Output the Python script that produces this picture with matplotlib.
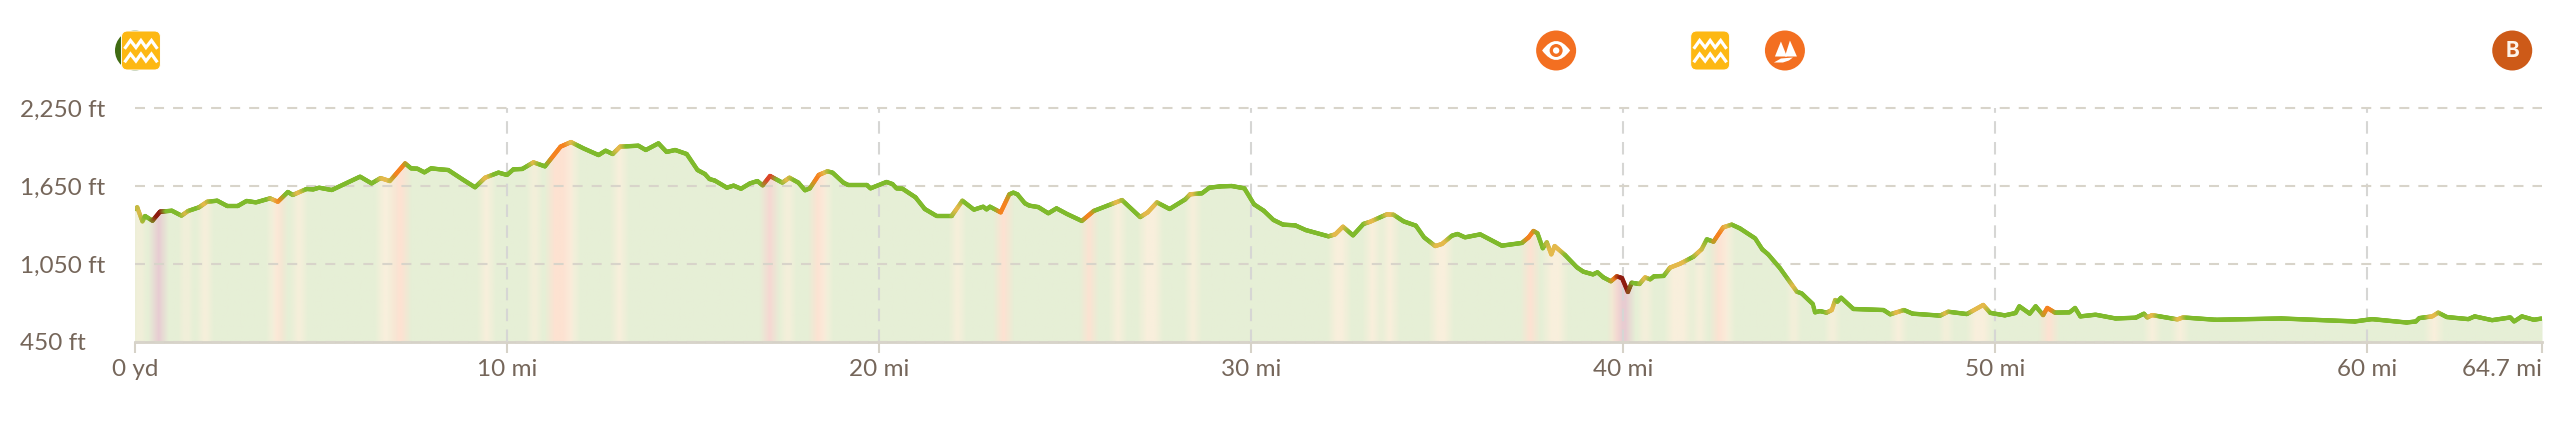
import numpy as np
import matplotlib
matplotlib.use('Agg')
import matplotlib.pyplot as plt
from matplotlib.collections import LineCollection
from matplotlib.patches import Circle, FancyBboxPatch, PathPatch, Polygon
from matplotlib.path import Path

# profile: distance in miles, elevation in feet
miles = [
    0, .06, .2, .27, .47, .67, .99, 1.25, 1.43, 1.72, 1.94, 2.21, 2.48, 2.76, 3.0, 3.25, 3.63, 3.84, 4.11, 4.24,
    4.61, 4.79, 4.95, 5.29, 6.05, 6.36, 6.6, 6.85, 7.26, 7.42, 7.59, 7.78, 7.96, 8.2, 8.42, 8.83, 9.14, 9.41, 9.77, 10.0,
    10.17, 10.41, 10.71, 11.02, 11.44, 11.72, 12.05, 12.46, 12.65, 12.84, 13.04, 13.53, 13.73, 14.07, 14.29, 14.52, 14.83, 15.12, 15.32, 15.44,
    15.59, 15.91, 16.09, 16.29, 16.53, 16.73, 16.87, 17.07, 17.4, 17.59, 17.83, 18.01, 18.14, 18.38, 18.61, 18.75, 19.04, 19.17, 19.67, 19.77,
    20.2, 20.36, 20.47, 20.63, 20.98, 21.23, 21.55, 21.95, 22.24, 22.55, 22.8, 22.89, 22.98, 23.27, 23.5, 23.61, 23.72, 23.92, 24.04, 24.28,
    24.55, 24.77, 25.05, 25.45, 25.77, 26.53, 27.02, 27.22, 27.47, 27.81, 28.23, 28.36, 28.68, 28.88, 29.17, 29.48, 29.82, 30.08, 30.34, 30.6,
    30.86, 31.19, 31.47, 32.08, 32.26, 32.47, 32.74, 33.02, 33.2, 33.65, 33.83, 34.1, 34.43, 34.65, 34.95, 35.13, 35.4, 35.55, 35.75, 36.16,
    36.74, 37.28, 37.46, 37.59, 37.7, 37.84, 37.95, 38.07, 38.16, 38.44, 38.76, 38.93, 39.19, 39.31, 39.47, 39.67, 39.83, 39.97, 40.13, 40.23,
    40.44, 40.59, 40.73, 40.83, 41.09, 41.26, 41.53, 41.89, 42.11, 42.25, 42.43, 42.69, 42.92, 43.14, 43.55, 43.74, 43.9, 44.22, 44.67, 44.8,
    45.1, 45.16, 45.29, 45.47, 45.61, 45.7, 45.76, 45.86, 46.19, 47.0, 47.18, 47.55, 47.78, 48.52, 48.74, 49.24, 49.68, 49.87, 50.26, 50.55,
    50.65, 50.93, 51.09, 51.29, 51.4, 51.61, 52.0, 52.15, 52.29, 52.7, 53.24, 53.78, 54.0, 54.09, 54.22, 54.9, 55.05, 55.93, 57.69, 59.67,
    60.13, 61.06, 61.31, 61.4, 61.75, 61.91, 62.14, 62.72, 62.89, 63.36, 63.85, 63.95, 64.16, 64.48, 64.7,
]
elevation = [
    1473, 1486, 1378, 1419, 1383, 1452, 1460, 1422, 1458, 1486, 1529, 1537, 1496, 1496, 1535, 1524, 1555, 1529, 1604, 1581,
    1627, 1624, 1637, 1619, 1722, 1670, 1711, 1688, 1824, 1786, 1783, 1755, 1786, 1778, 1773, 1696, 1640, 1714, 1753, 1735,
    1778, 1781, 1832, 1801, 1953, 1988, 1940, 1888, 1922, 1896, 1953, 1960, 1927, 1978, 1912, 1927, 1896, 1773, 1742, 1704,
    1691, 1637, 1653, 1629, 1670, 1688, 1655, 1727, 1676, 1714, 1676, 1617, 1632, 1735, 1763, 1753, 1676, 1658, 1658, 1632,
    1681, 1665, 1632, 1629, 1563, 1473, 1419, 1419, 1537, 1468, 1491, 1470, 1491, 1447, 1586, 1599, 1586, 1517, 1499, 1488,
    1440, 1478, 1435, 1381, 1458, 1542, 1411, 1447, 1524, 1473, 1547, 1586, 1594, 1637, 1647, 1650, 1632, 1509, 1460, 1389,
    1353, 1347, 1311, 1263, 1278, 1337, 1270, 1358, 1375, 1432, 1429, 1378, 1345, 1255, 1188, 1204, 1268, 1281, 1255, 1278,
    1191, 1212, 1255, 1304, 1286, 1171, 1217, 1124, 1188, 1119, 1024, 991, 970, 986, 947, 917, 955, 942, 835, 906,
    896, 947, 932, 955, 958, 1022, 1052, 1106, 1163, 1240, 1222, 1332, 1353, 1324, 1247, 1163, 1124, 1017, 837, 824,
    742, 678, 688, 676, 696, 773, 760, 791, 704, 696, 663, 696, 668, 653, 683, 665, 735, 674, 655, 673,
    725, 668, 725, 657, 712, 676, 678, 712, 647, 660, 631, 637, 668, 639, 657, 624, 639, 621, 631, 608,
    626, 600, 608, 634, 647, 676, 642, 626, 647, 618, 639, 608, 647, 621, 631,
]

# steep stretches: start mile, end mile, level (1 moderate, 2 steep, 3 very steep, 4 extreme)
steep_start = [
    .04, .5, 1.3, 1.77, 3.63, 3.81, 4.3, 6.57, 6.95, 9.32, 10.64, 11.14, 11.65, 12.9, 16.91, 17.43, 18.21, 18.46, 21.98, 23.2,
    25.52, 26.29, 27.07, 28.32, 32.17, 33.11, 33.6, 34.9, 37.37, 37.95, 39.7, 39.83, 40.5, 41.22, 41.93, 42.43, 42.7, 44.49, 45.52, 47.26,
    48.59, 49.33, 51.29, 54.1, 54.85, 61.65,
]
steep_end = [
    .2, .76, 1.43, 2.0, 3.81, 3.97, 4.52, 6.9, 7.3, 9.56, 10.82, 11.65, 11.83, 13.13, 17.2, 17.65, 18.46, 18.64, 22.22, 23.5,
    25.77, 26.55, 27.51, 28.54, 32.56, 33.4, 33.87, 35.32, 37.64, 38.38, 39.83, 40.19, 40.68, 41.75, 42.16, 42.7, 42.89, 44.67, 45.72, 47.52,
    48.77, 49.82, 51.58, 54.35, 55.1, 61.94,
]
steep_level = [
    1, 4, 1, 1, 1, 2, 1, 1, 2, 1, 1, 2, 1, 1, 3, 1, 2, 1, 1, 2,
    2, 1, 1, 1, 1, 1, 1, 1, 2, 1, 2, 4, 1, 1, 1, 2, 1, 1, 1, 1,
    1, 1, 2, 1, 1, 1,
]

x_ticks = [0, 10, 20, 30, 40, 50, 60, 64.7]
x_labels = ['0 yd', '10 mi', '20 mi', '30 mi', '40 mi', '50 mi', '60 mi', '64.7 mi']
y_ticks = [450, 1050, 1650, 2250]
y_labels = ['450 ft', '1,050 ft', '1,650 ft', '2,250 ft']

# waypoints along the top
start_mile = 0
waterfall_miles = [.16, 42.34]
viewpoint_mile = 38.2
lake_mile = 44.35
finish_mile = 63.9

line_colors = ['#7fba2c', '#e4b94b', '#f5821f', '#db4528', '#8e1b10']
band_colors = ['#e6efd6', '#f9efdc', '#fde2d2', '#f6d8d2', '#e8ccd2']
text_color = '#75665a'
axis_color = '#d6d2c8'


def strip_colors(palette, grid, width=11):
    # colours along the distance axis, softened a little at the edges of each stretch
    rgb = np.tile(matplotlib.colors.to_rgb(palette[0]), (len(grid), 1))
    for a, b, lev in zip(steep_start, steep_end, steep_level):
        rgb[(grid >= a) & (grid < b)] = matplotlib.colors.to_rgb(palette[lev])
    kernel = np.ones(width) / width
    pad = np.pad(rgb, ((width // 2, width // 2), (0, 0)), mode='edge')
    return np.column_stack([np.convolve(pad[:, i], kernel, mode='valid') for i in range(3)])


plt.rcParams['font.family'] = 'Lato'
plt.rcParams['lines.scale_dashes'] = False

fig = plt.figure(figsize=(25.6, 4.29), dpi=100)
ax = fig.add_axes([135 / 2560, 1 - 342 / 429, (2542 - 135) / 2560, 234 / 429])
ax.set_xlim(0, 64.7)
ax.set_ylim(450, 2250)

grid = np.arange(0, 64.7, .025)

# area under the profile, tinted by steepness
area = ax.fill_between(miles, elevation, 450, color=band_colors[0], lw=0, zorder=1)
im = ax.imshow(strip_colors(band_colors, grid)[np.newaxis, :, :], extent=[0, 64.7, 450, 2250],
               aspect='auto', interpolation='bilinear', zorder=1.5)
im.set_clip_path(area.get_paths()[0], transform=ax.transData)

ax.set_xticks(x_ticks, x_labels)
ax.set_yticks(y_ticks, y_labels)
ax.set_axisbelow(False)
ax.grid(True, axis='y', color='#d8d4ca', lw=1.5, ls=(0, (7.2, 6.5)), zorder=2, clip_on=False)
ax.grid(True, axis='x', color='#d6d6d4', lw=1.5, ls=(0, (9, 6)), zorder=2)
gl = ax.get_xgridlines()
gl[0].set_visible(False)
gl[-1].set_visible(False)
for g in ax.get_ygridlines() + gl:
    g.set_zorder(2)
    g.set_clip_on(False)

# profile line, split finely only so the colour can change along it
fine = np.unique(np.concatenate([grid, miles]))
fine_y = np.interp(fine, miles, elevation)
pts = np.column_stack([fine, fine_y]).reshape(-1, 1, 2)
segs = np.concatenate([pts[:-1], pts[1:]], axis=1)
seg_rgb = strip_colors(line_colors, grid, 7)[np.clip(np.searchsorted(grid, fine[:-1]), 0, len(grid) - 1)]
ax.add_collection(LineCollection(segs, colors=seg_rgb, linewidths=3.1, capstyle='round', zorder=3))

for side in ['top', 'left', 'right']:
    ax.spines[side].set_visible(False)
ax.spines['bottom'].set_color(axis_color)
ax.spines['bottom'].set_linewidth(2)
ax.spines['bottom'].set_zorder(2.5)
ax.tick_params(axis='x', length=8, width=1.5, color=axis_color, labelcolor=text_color, labelsize=17.5, pad=4)
ax.tick_params(axis='y', length=0, labelcolor=text_color, labelsize=17.5, pad=83)
for lab in ax.get_yticklabels():
    lab.set_ha('left')
ax.get_xticklabels()[-1].set_ha('right')

# icon row, drawn in pixels on a layer over the whole figure
top = fig.add_axes([0, 0, 1, 1], facecolor='none')
top.set_xlim(0, 2560)
top.set_ylim(429, 0)
top.axis('off')
fig.canvas.draw()


def px(mile):
    return ax.transData.transform((mile, 450))[0]


cy = 50.5
top.add_patch(Circle((px(start_mile), cy), 20, color='#3f6b12', lw=0))
for m in waterfall_miles:
    cx = px(m)
    top.add_patch(FancyBboxPatch((cx - 15.5, cy - 15.5), 31, 31, boxstyle='round,pad=4,rounding_size=6',
                                 fc='#fdb813', ec='white', lw=.7))
    for dy in (-6.5, 7):
        top.plot(cx + np.array([-15.5, -10.5, -5, 0, 5, 10.5, 15.5]),
                 cy + dy + np.array([3.5, -3.5, 3.5, -3.5, 3.5, -3.5, 3.5]),
                 color='white', lw=2.3, solid_joinstyle='miter')

cx = px(viewpoint_mile)
top.add_patch(Circle((cx, cy), 20, color='#f36f21', lw=0))
eye = Path([(cx - 14, cy), (cx, cy - 19), (cx + 14, cy), (cx, cy + 19), (cx - 14, cy)],
           [Path.MOVETO, Path.CURVE3, Path.CURVE3, Path.CURVE3, Path.CURVE3])
top.add_patch(PathPatch(eye, fc='white', lw=0))
top.add_patch(Circle((cx, cy), 6.5, color='#f36f21', lw=0))
top.add_patch(Circle((cx, cy), 3.2, color='white', lw=0))

cx = px(lake_mile)
top.add_patch(Circle((cx, cy), 20, color='#f36f21', lw=0))
for shape in ([(-4, -9), (-10, 6), (2, 6)], [(5, -10), (0, 6), (12, 6)],
              [(-11, 12), (-4, 8), (8, 7), (4, 10), (-2, 12)]):
    top.add_patch(Polygon([(cx + a, cy + b) for a, b in shape], fc='white', lw=0))

cx = px(finish_mile)
top.add_patch(Circle((cx, cy), 20, color='#cd5a18', lw=0))
top.text(cx, cy + .5, 'B', color='#fdf3ea', fontsize=15, fontweight='bold', ha='center', va='center', family='Inter')

fig.savefig('out.png', dpi=100)
